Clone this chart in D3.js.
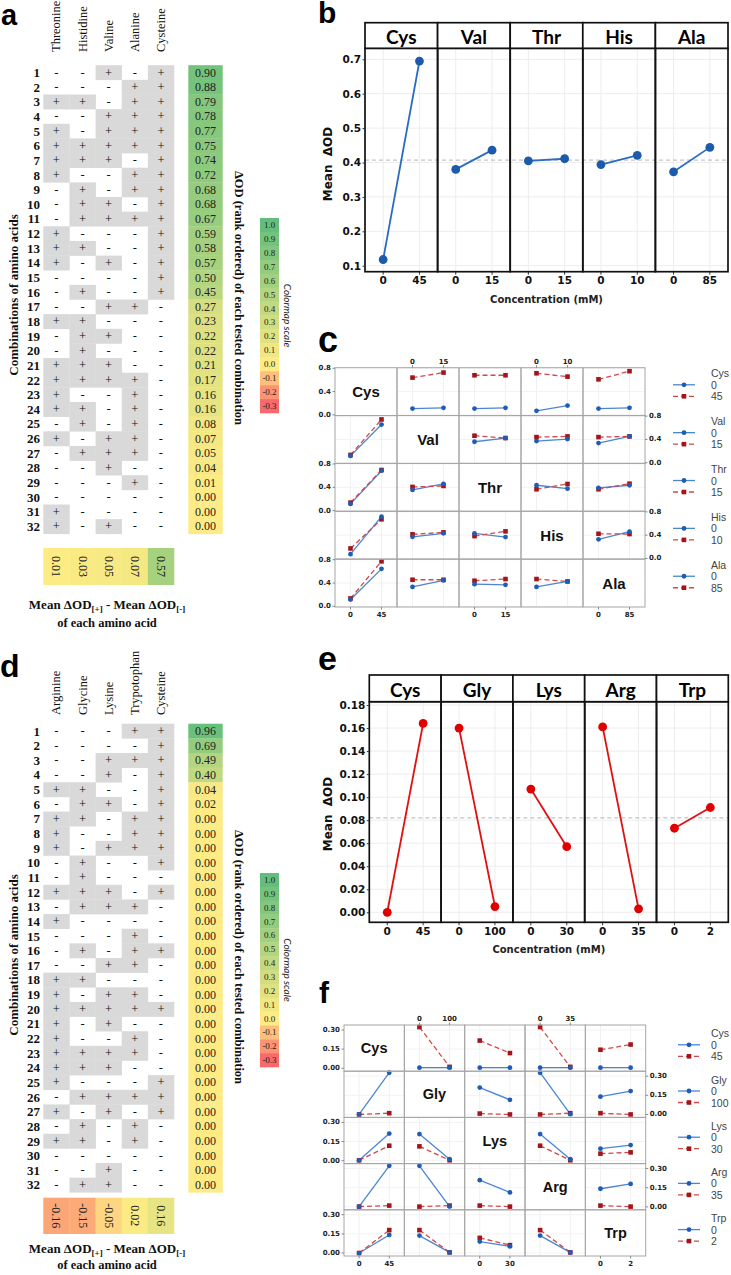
<!DOCTYPE html>
<html><head><meta charset="utf-8">
<script src="https://cdn.jsdelivr.net/npm/d3@7"></script>
<style>body{margin:0;background:#fff}svg{display:block}</style>
</head><body>
<svg id="fig" width="731" height="1275"></svg>
<script>
// ---------------- DATA ----------------
const aCols = ["Threonine","Histidine","Valine","Alanine","Cysteine"];
const aSigns = ["--+-+","---++","++-++","--+++","+-+++","+++++","+++-+","+--++","-+-++","-++-+",
  "-++++","+---+","++--+","+-+-+","----+","-+--+","--++-","++---","-++--","-+---",
  "+++--","++++-","+--+-","++-+-","-+-+-","+-++-","-+++-","--+--","---+-","-----","+----","+-+--"];
const aValues = [0.90,0.88,0.79,0.78,0.77,0.75,0.74,0.72,0.68,0.68,0.67,0.59,0.58,0.57,0.50,0.45,
  0.27,0.23,0.22,0.22,0.21,0.17,0.16,0.16,0.08,0.07,0.05,0.04,0.01,0.00,0.00,0.00];
const aEffects = [0.01,0.03,0.05,0.07,0.57];

const dCols = ["Arginine","Glycine","Lysine","Trypotophan","Cysteine"];
const dSigns = ["---++","----+","--+++","--+-+","++--+","-++-+","++-++","+--++","+-+++","-+--+",
  "-+---","+++-+","-+++-","+----","---+-","-+-++","--++-","++---","+-++-","+++++",
  "+-+--","+--+-","++++-","+++--","+---+","-++++","+-+-+","-+-+-","++-+-","-----","--+--","-++--"];
const dValues = [0.96,0.69,0.49,0.40,0.04,0.02,0.00,0.00,0.00,0.00,0.00,0.00,0.00,0.00,0.00,0.00,
  0.00,0.00,0.00,0.00,0.00,0.00,0.00,0.00,0.00,0.00,0.00,0.00,0.00,0.00,0.00,0.00];
const dEffects = [-0.16,-0.15,-0.05,0.02,0.16];

const cmapTicks = [1.0,0.9,0.8,0.7,0.6,0.5,0.4,0.3,0.2,0.1,0.0,-0.1,-0.2,-0.3];

const bFactors = ["Cys","Val","Thr","His","Ala"];
const bLevels = [["0","45"],["0","15"],["0","15"],["0","10"],["0","85"]];
const bMeans = [[0.118,0.695],[0.380,0.436],[0.405,0.411],[0.394,0.421],[0.373,0.444]];
const bGrand = 0.407;
const bTicks = [0.1,0.2,0.3,0.4,0.5,0.6,0.7];

const cBlue = [
  [null,[0.108,0.120],[0.108,0.120],[0.070,0.160],[0.108,0.120]],
  [[0.117,0.656],null,[0.360,0.424],[0.372,0.407],[0.337,0.452]],
  [[0.115,0.685],[0.354,0.457],null,[0.435,0.377],[0.389,0.435]],
  [[0.074,0.717],[0.372,0.431],[0.431,0.367],null,[0.328,0.459]],
  [[0.117,0.643],[0.333,0.444],[0.380,0.368],[0.333,0.427],null]];
const cRed = [
  [null,[0.640,0.726],[0.680,0.680],[0.714,0.657],[0.610,0.750]],
  [[0.134,0.743],null,[0.464,0.424],[0.440,0.452],[0.440,0.452]],
  [[0.137,0.697],[0.406,0.423],null,[0.366,0.457],[0.366,0.462]],
  [[0.172,0.672],[0.414,0.448],[0.384,0.465],null,[0.424,0.419]],
  [[0.135,0.772],[0.456,0.456],[0.439,0.468],[0.468,0.427],null]];
const cTicks = [0.0,0.4,0.8];

const eFactors = ["Cys","Gly","Lys","Arg","Trp"];
const eLevels = [["0","45"],["0","100"],["0","30"],["0","35"],["0","2"]];
const eMeans = [[0.000,0.164],[0.160,0.005],[0.107,0.057],[0.161,0.003],[0.073,0.091]];
const eGrand = 0.082;
const eTicks = [0.00,0.02,0.04,0.06,0.08,0.10,0.12,0.14,0.16,0.18];

const fBlue = [
  [null,[0.005,0.005],[0.005,0.005],[0.005,0.005],[0.005,0.005]],
  [[0.000,0.327],null,[0.211,0.115],[0.327,0.002],[0.139,0.183]],
  [[0.003,0.212],[0.208,0.011],null,[0.208,0.011],[0.094,0.122]],
  [[0.002,0.322],[0.322,0.002],[0.209,0.113],null,[0.142,0.180]],
  [[0.000,0.142],[0.137,0.005],[0.090,0.052],[0.137,0.005],null]];
const fRed = [
  [null,[0.323,0.011],[0.217,0.119],[0.323,0.011],[0.145,0.186]],
  [[0.000,0.010],null,[0.007,0.000],[0.000,0.010],[0.010,0.000]],
  [[0.003,0.117],[0.112,0.003],null,[0.117,0.003],[0.055,0.065]],
  [[0.002,0.010],[0.002,0.010],[0.010,0.002],null,[0.010,0.002]],
  [[0.000,0.180],[0.180,0.005],[0.119,0.062],[0.180,0.005],null]];
const fTicks = [0.00,0.15,0.30];

// ---------------- DRAWING ----------------
const serif = "'Liberation Serif','Times New Roman',serif";
const sans = "'Liberation Sans',Arial,sans-serif";
const dv = "'DejaVu Sans',sans-serif";
const svg = d3.select("#fig");
const heat = d3.scaleLinear().domain([-0.3,0,1]).range(["#f8696b","#ffeb84","#63be7b"]);

function label(t,x,y,size){
  svg.append("text").attr("x",x).attr("y",y).attr("font-family",sans).attr("font-weight","bold")
    .attr("font-size",size).attr("fill","#000").text(t);
}

function drawTable(o){
  const g = svg.append("g");
  const rows = d3.range(1,o.signs.length+1);
  const y = d3.scaleBand().domain(rows).range(o.yRange);
  const x = d3.scaleBand().domain(o.cols).range([43.3,174]);
  const cells = [];
  o.signs.forEach((s,i)=>s.split("").forEach((ch,j)=>cells.push({row:i+1,col:o.cols[j],ch})));
  g.selectAll(null).data(cells.filter(d=>d.ch==="+")).join("rect")
    .attr("x",d=>x(d.col)).attr("y",d=>y(d.row)).attr("width",x.bandwidth()+0.3).attr("height",y.bandwidth()+0.3)
    .attr("fill","#d9d9d9");
  g.selectAll(null).data(cells).join("text")
    .attr("x",d=>x(d.col)+x.bandwidth()/2).attr("y",d=>y(d.row)+y.bandwidth()/2)
    .attr("text-anchor","middle").attr("dominant-baseline","central")
    .attr("font-family",serif).attr("font-size",12.5).attr("fill","#111").text(d=>d.ch);
  // headers
  g.selectAll(null).data(o.cols).join("text")
    .attr("transform",d=>`translate(${x(d)+x.bandwidth()/2},${o.headerY}) rotate(-90)`)
    .attr("dominant-baseline","central").attr("font-family",serif).attr("font-size",12.5).attr("fill","#111").text(d=>d);
  // row numbers
  g.selectAll(null).data(rows).join("text")
    .attr("x",40).attr("y",d=>y(d)+y.bandwidth()/2).attr("text-anchor","end").attr("dominant-baseline","central")
    .attr("font-family",serif).attr("font-weight","bold").attr("font-size",13).attr("fill","#111").text(d=>d);
  // values
  g.selectAll(null).data(o.values).join("rect")
    .attr("x",188.3).attr("y",(d,i)=>y(i+1)).attr("width",34.4).attr("height",y.bandwidth()+0.3)
    .attr("fill",d=>heat(d));
  g.selectAll(null).data(o.values).join("text")
    .attr("x",205.5).attr("y",(d,i)=>y(i+1)+y.bandwidth()/2).attr("text-anchor","middle").attr("dominant-baseline","central")
    .attr("font-family",serif).attr("font-size",12).attr("fill","#222").text(d=>d.toFixed(2));
  // effects row
  g.selectAll(null).data(o.effects).join("rect")
    .attr("x",(d,i)=>x(o.cols[i])).attr("y",o.effY).attr("width",x.bandwidth()+0.3).attr("height",o.effH)
    .attr("fill",d=>heat(d));
  g.selectAll(null).data(o.effects).join("text")
    .attr("transform",(d,i)=>`translate(${x(o.cols[i])+x.bandwidth()/2},${o.effY+o.effH/2}) rotate(90)`)
    .attr("text-anchor","middle").attr("dominant-baseline","central")
    .attr("font-family",serif).attr("font-size",12).attr("fill","#222").text(d=>d.toFixed(2));
  // left / right titles
  g.append("text").attr("transform",`translate(13,${o.leftCy}) rotate(-90)`).attr("text-anchor","middle")
    .attr("dominant-baseline","central").attr("font-family",serif).attr("font-weight","bold").attr("font-size",13)
    .attr("fill","#111").text("Combinations of amino acids");
  g.append("text").attr("transform",`translate(239,${o.rightCy}) rotate(90)`).attr("text-anchor","middle")
    .attr("dominant-baseline","central").attr("font-family",serif).attr("font-weight","bold").attr("font-size",12.5)
    .attr("fill","#111").text("\u0394OD (rank ordered) of each tested combination");
  // bottom title
  const t1 = g.append("text").attr("x",107).attr("y",o.meanY).attr("text-anchor","middle")
    .attr("font-family",serif).attr("font-weight","bold").attr("font-size",13).attr("fill","#111");
  t1.append("tspan").text("Mean \u0394OD");
  t1.append("tspan").attr("font-size",9).attr("dy",3).text("[+]");
  t1.append("tspan").attr("dy",-3).text(" - Mean \u0394OD");
  t1.append("tspan").attr("font-size",9).attr("dy",3).text("[-]");
  g.append("text").attr("x",107).attr("y",o.meanY+o.gap).attr("text-anchor","middle")
    .attr("font-family",serif).attr("font-weight","bold").attr("font-size",12.5).attr("fill","#111").text("of each amino acid");
  // colorbar
  const yb = d3.scaleBand().domain(cmapTicks).range(o.cbar);
  g.selectAll(null).data(cmapTicks).join("rect")
    .attr("x",260).attr("y",d=>yb(d)).attr("width",19).attr("height",yb.bandwidth()+0.3).attr("fill",d=>heat(d));
  g.selectAll(null).data(cmapTicks).join("text")
    .attr("x",269.5).attr("y",d=>yb(d)+yb.bandwidth()/2).attr("text-anchor","middle").attr("dominant-baseline","central")
    .attr("font-family",serif).attr("font-size",9).attr("fill","#222").text(d=>d.toFixed(1));
  g.append("text").attr("transform",`translate(288,${(o.cbar[0]+o.cbar[1])/2}) rotate(90)`).attr("text-anchor","middle")
    .attr("dominant-baseline","central").attr("font-family","Lato, 'Open Sans', sans-serif").attr("font-style","italic")
    .attr("font-size",10).attr("fill","#222").text("Colormap scale");
}

function mainEffects(o){
  const g = svg.append("g");
  const fx = d3.scaleBand().domain(o.factors).range([o.x0,o.x1]);
  const y = d3.scaleLinear().domain(o.yDomain).range([o.yB,o.yS]);
  const bw = fx.bandwidth();
  o.factors.forEach((f,i)=>{
    const px = d3.scalePoint().domain(o.levels[i]).range([fx(f),fx(f)+bw]).padding(0.5);
    g.selectAll(null).data(o.levels[i]).join("line").attr("x1",d=>px(d)).attr("x2",d=>px(d))
      .attr("y1",o.yS).attr("y2",o.yB).attr("stroke","#ededed");
    g.selectAll(null).data(o.ticks).join("line").attr("x1",fx(f)).attr("x2",fx(f)+bw)
      .attr("y1",d=>y(d)).attr("y2",d=>y(d)).attr("stroke","#ededed");
  });
  g.append("line").attr("x1",o.x0).attr("x2",o.x1).attr("y1",y(o.grand)).attr("y2",y(o.grand))
    .attr("stroke","#b5b5b5").attr("stroke-width",1).attr("stroke-dasharray","4,3");
  o.factors.forEach((f,i)=>{
    const px = d3.scalePoint().domain(o.levels[i]).range([fx(f),fx(f)+bw]).padding(0.5);
    const pts = o.levels[i].map((l,k)=>[px(l),y(o.means[i][k])]);
    g.append("path").attr("d",d3.line()(pts)).attr("fill","none").attr("stroke",o.lineColor).attr("stroke-width",1.8);
    g.selectAll(null).data(pts).join("circle").attr("cx",d=>d[0]).attr("cy",d=>d[1]).attr("r",4.4).attr("fill",o.pointColor);
    g.selectAll(null).data(o.levels[i]).join("line").attr("x1",d=>px(d)).attr("x2",d=>px(d))
      .attr("y1",o.yB).attr("y2",o.yB+3).attr("stroke","#333");
    g.selectAll(null).data(o.levels[i]).join("text").attr("x",d=>px(d)).attr("y",o.yB+12.5)
      .attr("text-anchor","middle").attr("font-family",dv).attr("font-weight","bold").attr("font-size",10.5)
      .attr("fill","#111").text(d=>d);
  });
  o.factors.forEach(f=>{
    g.append("rect").attr("x",fx(f)).attr("y",o.yS).attr("width",bw).attr("height",o.yB-o.yS)
      .attr("fill","none").attr("stroke","#111").attr("stroke-width",1.7);
    g.append("rect").attr("x",fx(f)).attr("y",o.yT).attr("width",bw).attr("height",o.yS-o.yT)
      .attr("fill","#fff").attr("stroke","#111").attr("stroke-width",1.7);
    g.append("text").attr("x",fx(f)+bw/2).attr("y",(o.yT+o.yS)/2+1).attr("text-anchor","middle")
      .attr("dominant-baseline","central").attr("font-family","Lato, sans-serif").attr("font-weight","bold")
      .attr("font-size",19).attr("fill","#000").text(f);
  });
  const ax = g.append("g").attr("transform",`translate(${o.x0},0)`)
    .call(d3.axisLeft(y).tickValues(o.ticks).tickFormat(d3.format(o.fmt)).tickSize(2.5).tickPadding(1.5));
  ax.select(".domain").remove();
  ax.selectAll("line").attr("stroke","#333");
  ax.selectAll("text").attr("font-family",dv).attr("font-weight","bold").attr("font-size",10.5).attr("fill","#111");
  g.append("text").attr("x",(o.x0+o.x1)/2).attr("y",o.yB+31).attr("text-anchor","middle")
    .attr("font-family",dv).attr("font-weight","bold").attr("font-size",10).attr("fill","#222").text("Concentration (mM)");
  g.append("text").attr("transform",`translate(328,${o.yLabCy}) rotate(-90)`).attr("text-anchor","middle")
    .attr("dominant-baseline","central").attr("font-family",dv).attr("font-weight","bold").attr("font-size",12)
    .attr("fill","#111").attr("xml:space","preserve").text("Mean  \u0394OD");
}

function interactions(o){
  const g = svg.append("g");
  const idx = d3.range(o.factors.length);
  const cx = d3.scaleBand().domain(idx).range([o.x0,o.x1]);
  const ry = d3.scaleBand().domain(idx).range([o.y0,o.y1]);
  const bw = cx.bandwidth(), bh = ry.bandwidth();
  const blueL = "#4a86d4", blueP = "#1f5cb5", redL = "#cf4a4a", redP = "#a3151a";
  idx.forEach(r=>idx.forEach(c=>{
    const y = d3.scaleLinear().domain(o.yDomain).range([ry(r)+bh,ry(r)]);
    const px = d3.scalePoint().domain(o.levels[c]).range([cx(c),cx(c)+bw]).padding(0.5);
    if(r===c){
      g.append("text").attr("x",cx(c)+bw/2).attr("y",ry(r)+bh/2).attr("text-anchor","middle")
        .attr("dominant-baseline","central").attr("font-family",sans).attr("font-weight","bold")
        .attr("font-size",o.diagSize).attr("fill","#111").text(o.factors[r]);
      return;
    }
    g.selectAll(null).data(o.levels[c]).join("line").attr("x1",d=>px(d)).attr("x2",d=>px(d))
      .attr("y1",ry(r)).attr("y2",ry(r)+bh).attr("stroke","#f0f0f0");
    g.selectAll(null).data(o.ticks).join("line").attr("x1",cx(c)).attr("x2",cx(c)+bw)
      .attr("y1",d=>y(d)).attr("y2",d=>y(d)).attr("stroke","#f3f3f3");
    const bp = o.levels[c].map((l,k)=>[px(l),y(o.blue[r][c][k])]);
    const rp = o.levels[c].map((l,k)=>[px(l),y(o.red[r][c][k])]);
    g.append("path").attr("d",d3.line()(bp)).attr("fill","none").attr("stroke",blueL).attr("stroke-width",1.3);
    g.append("path").attr("d",d3.line()(rp)).attr("fill","none").attr("stroke",redL).attr("stroke-width",1.3).attr("stroke-dasharray","5,3");
    g.selectAll(null).data(rp).join("rect").attr("x",d=>d[0]-2.3).attr("y",d=>d[1]-2.3).attr("width",4.6).attr("height",4.6).attr("fill",redP);
    g.selectAll(null).data(bp).join("circle").attr("cx",d=>d[0]).attr("cy",d=>d[1]).attr("r",2.4).attr("fill",blueP);
  }));
  idx.forEach(r=>idx.forEach(c=>{
    g.append("rect").attr("x",cx(c)).attr("y",ry(r)).attr("width",bw).attr("height",bh)
      .attr("fill","none").attr("stroke","#a6a6a6").attr("stroke-width",1);
  }));
  // y axes
  idx.forEach(r=>{
    const y = d3.scaleLinear().domain(o.yDomain).range([ry(r)+bh,ry(r)]);
    const left = r%2===0;
    const xx = left ? o.x0 : o.x1;
    g.selectAll(null).data(o.ticks).join("line").attr("x1",xx).attr("x2",left?xx-2.5:xx+2.5)
      .attr("y1",d=>y(d)).attr("y2",d=>y(d)).attr("stroke","#888");
    g.selectAll(null).data(o.ticks).join("text").attr("x",left?xx-4:xx+4).attr("y",d=>y(d))
      .attr("text-anchor",left?"end":"start").attr("dominant-baseline","central")
      .attr("font-family",dv).attr("font-weight","bold").attr("font-size",7).attr("fill","#222")
      .text(d=>d3.format(o.fmt)(d));
  });
  // x axes
  idx.forEach(c=>{
    const px = d3.scalePoint().domain(o.levels[c]).range([cx(c),cx(c)+bw]).padding(0.5);
    const top = c%2===1;
    const yy = top ? o.y0 : o.y1;
    g.selectAll(null).data(o.levels[c]).join("line").attr("x1",d=>px(d)).attr("x2",d=>px(d))
      .attr("y1",yy).attr("y2",top?yy-2.5:yy+2.5).attr("stroke","#888");
    g.selectAll(null).data(o.levels[c]).join("text").attr("x",d=>px(d)).attr("y",top?yy-4:yy+10)
      .attr("text-anchor","middle").attr("font-family",dv).attr("font-weight","bold").attr("font-size",7)
      .attr("fill","#222").text(d=>d);
  });
  // legend
  idx.forEach(k=>{
    const t = ry(k)+o.legOff;
    const lg = g.append("g");
    lg.append("text").attr("x",o.legText).attr("y",t).attr("dominant-baseline","central")
      .attr("font-family",sans).attr("font-size",10.5).attr("fill","#444").text(o.factors[k]);
    const y0 = t+11.5, y1 = t+23;
    lg.append("line").attr("x1",o.legLine).attr("x2",o.legLine+22).attr("y1",y0).attr("y2",y0).attr("stroke",blueL).attr("stroke-width",1.3);
    lg.append("circle").attr("cx",o.legLine+11).attr("cy",y0).attr("r",2.4).attr("fill",blueP);
    lg.append("line").attr("x1",o.legLine).attr("x2",o.legLine+22).attr("y1",y1).attr("y2",y1).attr("stroke",redL).attr("stroke-width",1.3).attr("stroke-dasharray","5,3");
    lg.append("rect").attr("x",o.legLine+11-2.3).attr("y",y1-2.3).attr("width",4.6).attr("height",4.6).attr("fill",redP);
    lg.append("text").attr("x",o.legText).attr("y",y0).attr("dominant-baseline","central")
      .attr("font-family",sans).attr("font-size",10.5).attr("fill","#444").text(o.levels[k][0]);
    lg.append("text").attr("x",o.legText).attr("y",y1).attr("dominant-baseline","central")
      .attr("font-family",sans).attr("font-size",10.5).attr("fill","#444").text(o.levels[k][1]);
  });
}

// panel a
drawTable({cols:aCols,signs:aSigns,values:aValues,effects:aEffects,yRange:[65.2,533.8],headerY:52,
  effY:548,effH:37,meanY:609,gap:18,leftCy:295,rightCy:298,cbar:[218,413]});
// panel d
drawTable({cols:dCols,signs:dSigns,values:dValues,effects:dEffects,yRange:[723.7,1192.3],headerY:715,
  effY:1197.7,effH:36.3,meanY:1253,gap:16,leftCy:955,rightCy:957,cbar:[873,1067]});

mainEffects({factors:bFactors,levels:bLevels,means:bMeans,grand:bGrand,ticks:bTicks,fmt:".1f",
  x0:365,x1:728,yT:22.7,yS:48.3,yB:271.7,yDomain:[0.0826,0.732],lineColor:"#2a6cc4",pointColor:"#1c5aab",yLabCy:164});
mainEffects({factors:eFactors,levels:eLevels,means:eMeans,grand:eGrand,ticks:eTicks,fmt:".2f",
  x0:369.3,x1:728.3,yT:675,yS:701.7,yB:922.3,yDomain:[-0.0087,0.1829],lineColor:"#e01010",pointColor:"#e00000",yLabCy:814});

interactions({factors:bFactors,levels:bLevels,blue:cBlue,red:cRed,ticks:cTicks,fmt:".1f",
  x0:335,x1:645,y0:367.7,y1:607,yDomain:[-0.012,0.81],diagSize:15,legOff:5.6,legText:711,legLine:673});
interactions({factors:eFactors,levels:eLevels,blue:fBlue,red:fRed,ticks:fTicks,fmt:".2f",
  x0:344,x1:645.7,y0:1025,y1:1256,yDomain:[-0.023,0.339],diagSize:14.5,legOff:8.3,legText:711,legLine:678});

label("a",1,25,29);
label("b",318,23,30);
label("c",318,352,36);
label("d",0,677,32);
label("e",318,670,34);
label("f",319,1003,30);
</script>
</body></html>
